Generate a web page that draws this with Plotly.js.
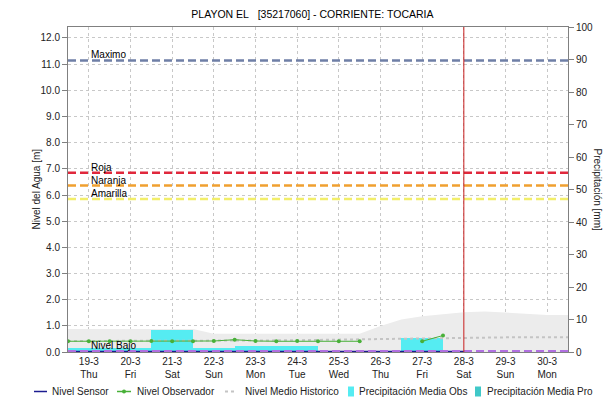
<!DOCTYPE html>
<html>
<head>
<meta charset="utf-8">
<script src="https://cdn.plot.ly/plotly-3.0.1.min.js"></script>
<style>html,body{margin:0;padding:0;background:#fff;}#chart{width:615px;height:418px;}</style>
</head>
<body>
<div id="chart"></div>
<script>
// ---- Data ----
const days = ['2015-03-19','2015-03-20','2015-03-21','2015-03-22','2015-03-23','2015-03-24','2015-03-25','2015-03-26','2015-03-27','2015-03-28','2015-03-29','2015-03-30'];
const dayLabels = ['19-3','20-3','21-3','22-3','23-3','24-3','25-3','26-3','27-3','28-3','29-3','30-3'];
const weekdays = ['Thu','Fri','Sat','Sun','Mon','Tue','Wed','Thu','Fri','Sat','Sun','Mon'];
const xRange = ['2015-03-18 12:00','2015-03-30 12:00'];
const nowDate = '2015-03-28';

// Precipitation (mm), daily, centred on each day
const precipObs = [1.3, 1.3, 6.8, 1.3, 1.8, 1.8, 0, 0, 4.2, 0, 0, 0];
const precipPro = [0, 0, 0, 0, 0, 0, 0, 0, 0, 0, 0, 0];

// Historic precipitation envelope (mm) - grey area
const histTimes = ['2015-03-18 12:00','2015-03-21 12:00','2015-03-22 00:00','2015-03-25 12:00','2015-03-26 00:00','2015-03-26 12:00','2015-03-27 00:00','2015-03-27 12:00','2015-03-28 00:00','2015-03-28 12:00','2015-03-29 00:00','2015-03-29 12:00','2015-03-30 00:00','2015-03-30 12:00'];
const histMM = [7.1, 7.1, 5.6, 5.6, 8.0, 10.0, 11.0, 11.7, 12.2, 12.5, 12.2, 11.7, 11.4, 11.4];

// Observer level (m), every 12 h
const obsTimes = ['2015-03-18 12:00','2015-03-19 00:00','2015-03-19 12:00','2015-03-20 00:00','2015-03-20 12:00','2015-03-21 00:00','2015-03-21 12:00','2015-03-22 00:00','2015-03-22 12:00','2015-03-23 00:00','2015-03-23 12:00','2015-03-24 00:00','2015-03-24 12:00','2015-03-25 00:00','2015-03-25 12:00','2015-03-26 00:00','2015-03-27 00:00','2015-03-27 12:00'];
const obsLevel = [0.41, 0.41, 0.41, 0.41, 0.42, 0.41, 0.41, 0.42, 0.47, 0.42, 0.41, 0.42, 0.41, 0.41, 0.41, null, 0.41, 0.63];

// Historic mean level (m)
const medioTimes = ['2015-03-18 12:00','2015-03-19','2015-03-20','2015-03-21','2015-03-22','2015-03-23','2015-03-24','2015-03-25','2015-03-26','2015-03-27','2015-03-28','2015-03-29','2015-03-30','2015-03-30 12:00'];
const medioLevel = [0.42, 0.42, 0.42, 0.42, 0.43, 0.44, 0.45, 0.47, 0.50, 0.52, 0.55, 0.56, 0.56, 0.56];

// Sensor level (m)
const sensorTimes = ['2015-03-18 12:00','2015-03-28 00:00'];
const sensorLevel = [0.02, 0.02];

// Threshold levels (m)
const thresholdNames = ['Maximo','Roja','Naranja','Amarilla','Nivel Bajo'];
const thresholdValues = [11.14, 6.85, 6.36, 5.85, 0.03];
const thresholdColors = ['#6f7fa6','#e0283c','#f0a030','#f2ee6a','#b070e0'];

// Legend entries
const legendNames = ['Nivel Sensor','Nivel Observador','Nivel Medio Historico','Precipitación Media Obs','Precipitación Media Pro'];
const legendColors = ['#1c1c90','#48b038','#c4c4c4','#55ecf2','#40c8c8'];
const legendKinds = ['line','linemarker','dot','box','box'];

// ---- Traces ----
const FONT = 'Liberation Sans, Arial, sans-serif';
const traces = [
  {x: histTimes, y: histMM, type: 'scatter', mode: 'lines', fill: 'tozeroy',
   fillcolor: '#ececec', line: {width: 0, color: '#ececec'}, yaxis: 'y', hoverinfo: 'skip'},
  {x: days, y: precipObs, type: 'bar', name: legendNames[3], marker: {color: legendColors[3], line: {width: 0}}, yaxis: 'y2'},
  {x: days, y: precipPro, type: 'bar', name: legendNames[4], marker: {color: legendColors[4], line: {width: 0}}, yaxis: 'y2'},
  {x: medioTimes, y: medioLevel, type: 'scatter', mode: 'lines', name: legendNames[2],
   line: {color: legendColors[2], width: 2, dash: 'dot'}, yaxis: 'y3'},
  {x: sensorTimes, y: sensorLevel, type: 'scatter', mode: 'lines', name: legendNames[0],
   line: {color: legendColors[0], width: 1.5}, yaxis: 'y3'},
  {x: obsTimes, y: obsLevel, type: 'scatter', mode: 'lines+markers', name: legendNames[1],
   line: {color: legendColors[1], width: 1}, marker: {color: legendColors[1], size: 4, symbol: 'circle'},
   connectgaps: false, yaxis: 'y3'}
];

const shapes = thresholdValues.map((v, i) => ({
  type: 'line', xref: 'paper', x0: 0, x1: 1, yref: 'y3', y0: v, y1: v,
  line: {color: thresholdColors[i], width: 2.5, dash: '8px,4px'}, layer: 'above'
}));
shapes.push({type: 'line', xref: 'x', x0: nowDate, x1: nowDate, yref: 'paper', y0: 0, y1: 1,
  line: {color: '#c81e1e', width: 1}, layer: 'above'});

const annotations = thresholdNames.map((n, i) => ({
  text: n, x: days[0], xref: 'x', xanchor: 'left', y: thresholdValues[i], yref: 'y3',
  yanchor: 'bottom', yshift: -2, showarrow: false, font: {family: FONT, size: 10, color: '#000'}
}));
annotations.push({text: 'Nivel del Agua [m]', xref: 'paper', yref: 'paper', x: -0.064, y: 0.5,
  xanchor: 'center', yanchor: 'middle',
  textangle: -90, showarrow: false, font: {family: FONT, size: 10, color: '#222'}});
annotations.push({text: 'Precipitación [mm]', xref: 'paper', yref: 'paper', x: 1.058, y: 0.5,
  xanchor: 'center', yanchor: 'middle',
  textangle: 90, showarrow: false, font: {family: FONT, size: 10, color: '#222'}});

// ---- Manual one-row legend (plot area: x 68..568 px, y 27..352 px) ----
const PL = 68, PW = 500, PB = 352, PH = 325;
const px2x = p => (p - PL) / PW;
const legY = -(391.5 - PB) / PH;
const legSym = [[34, 47], [117, 131], [225, 237], [348, 354], [475, 481]];
const legText = [50, 135, 243, 357, 485];
legendNames.forEach((n, i) => {
  const [a, b] = legSym[i];
  if (legendKinds[i] === 'box') {
    shapes.push({type: 'rect', xref: 'paper', yref: 'paper', x0: px2x(a), x1: px2x(b),
      y0: legY - 5 / PH, y1: legY + 5 / PH, fillcolor: legendColors[i], line: {width: 0}});
  } else {
    shapes.push({type: 'line', xref: 'paper', yref: 'paper', x0: px2x(a), x1: px2x(b), y0: legY, y1: legY,
      line: {color: legendColors[i], width: legendKinds[i] === 'dot' ? 2 : 1.5, dash: legendKinds[i] === 'dot' ? 'dot' : 'solid'}});
    if (legendKinds[i] === 'linemarker') {
      const c = (a + b) / 2;
      shapes.push({type: 'circle', xref: 'paper', yref: 'paper', x0: px2x(c - 2), x1: px2x(c + 2),
        y0: legY - 2 / PH, y1: legY + 2 / PH, fillcolor: legendColors[i], line: {width: 0}});
    }
  }
  annotations.push({text: n, xref: 'paper', yref: 'paper', x: px2x(legText[i]), xanchor: 'left',
    y: legY, yanchor: 'middle', showarrow: false, font: {family: FONT, size: 10, color: '#222'}});
});

const ticktext = dayLabels.map((d, i) => d + '<br>' + weekdays[i]);

const layout = {
  width: 615, height: 418,
  margin: {l: 68, r: 47, t: 27, b: 66, pad: 0, autoexpand: false},
  paper_bgcolor: '#fff', plot_bgcolor: '#fff',
  font: {family: FONT, size: 10, color: '#222'},
  title: {text: 'PLAYON EL\u00a0\u00a0\u00a0[35217060] - CORRIENTE: TOCARIA', x: 0.508, xanchor: 'center',
          y: 0.966, yanchor: 'middle', font: {family: FONT, size: 10.5, color: '#000'}},
  barmode: 'overlay', bargap: 0,
  showlegend: false,
  xaxis: {type: 'date', range: xRange, tickvals: days, ticktext: ticktext, tickangle: 0,
          showgrid: true, gridcolor: '#c8c8c8', griddash: 'dot', gridwidth: 1,
          showline: true, linecolor: '#808080', mirror: true, ticks: '', zeroline: false,
          tickfont: {family: FONT, size: 10, color: '#222'}},
  yaxis: {side: 'right', range: [0, 100], dtick: 10, tickformat: 'd', ticks: 'outside', ticklen: 5,
          tickcolor: '#808080', showline: true, linecolor: '#808080', showgrid: false, zeroline: false,
          tickfont: {family: FONT, size: 10, color: '#222'}},
  yaxis2: {overlaying: 'y', side: 'right', range: [0, 100], visible: false, showgrid: false, zeroline: false},
  yaxis3: {overlaying: 'y', side: 'left', range: [0, 12.42], dtick: 1, tickformat: '.1f', ticks: 'outside',
           ticklen: 5, tickcolor: '#808080', showline: true, linecolor: '#808080',
           showgrid: true, gridcolor: '#c8c8c8', griddash: 'dot', zeroline: false,
           tickfont: {family: FONT, size: 10, color: '#222'}},
  shapes: shapes,
  annotations: annotations
};

Plotly.newPlot('chart', traces, layout, {displayModeBar: false, staticPlot: true});
</script>
</body>
</html>
